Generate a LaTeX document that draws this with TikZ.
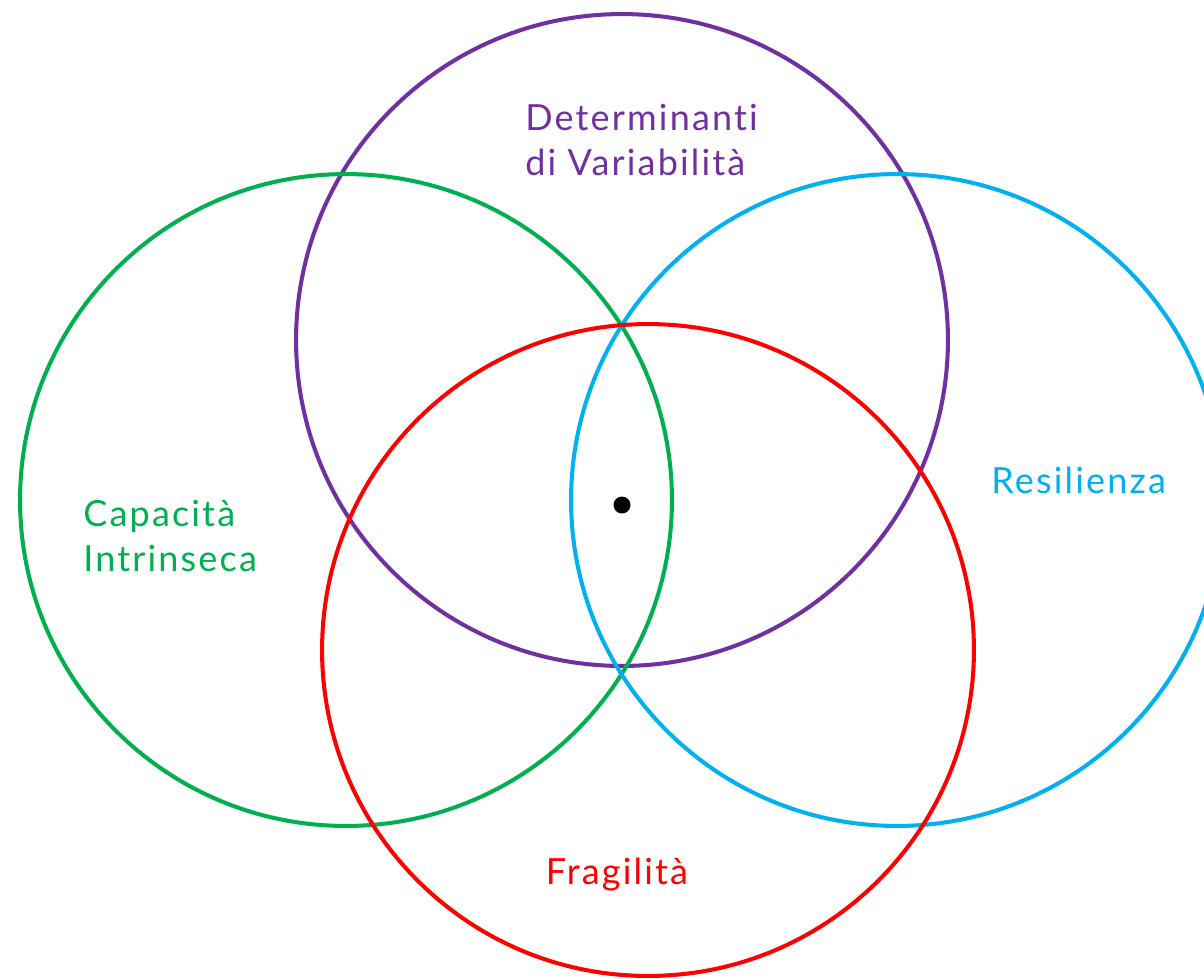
\documentclass[tikz,border=0pt]{standalone}
\usepackage{fontspec}
\setmainfont{Lato}[Ligatures=NoCommon, LetterSpace=6]
\usetikzlibrary{positioning}

\definecolor{vpurple}{HTML}{7030A0}
\definecolor{vgreen}{HTML}{00B050}
\definecolor{vblue}{HTML}{00B0F0}
\definecolor{vred}{HTML}{FF0000}

\tikzset{
  ring/.style={circle, draw=#1, line width=2.3pt, minimum size=13.04cm, inner sep=0pt},
  label text/.style={text=#1, font=\fontsize{20.5}{26}\selectfont, align=left, inner sep=0pt}
}

\begin{document}
\begin{tikzpicture}[x=0.02cm, y=-0.02cm]
\useasboundingbox (0,0) rectangle (1204,978);
\clip (0,0) rectangle (1204,978);
% the four sets
\node[ring=vpurple] (determinanti) at (622,340) {};
\node[ring=vgreen] (capacita) at (346,500) {};
\node[ring=vblue] (resilienza) at (897,500) {};
\node[ring=vred] (fragilita) at (648,650) {};
% the point in the middle
\node[circle, fill=black, minimum size=0.34cm, inner sep=0pt] (punto) at (622,505) {};
% labels
\node[label text=vpurple, anchor=west] (lbldet) at (525,140) {Determinanti\\di Variabilità};
\node[label text=vgreen, anchor=west] (lblcap) at (83,536) {Capacità\\Intrinseca};
\node[label text=vblue, anchor=west] (lblres) at (991,480) {Resilienza};
\node[label text=vred] (lblfra) at (617,875) {Fragilità};
\end{tikzpicture}
\end{document}
